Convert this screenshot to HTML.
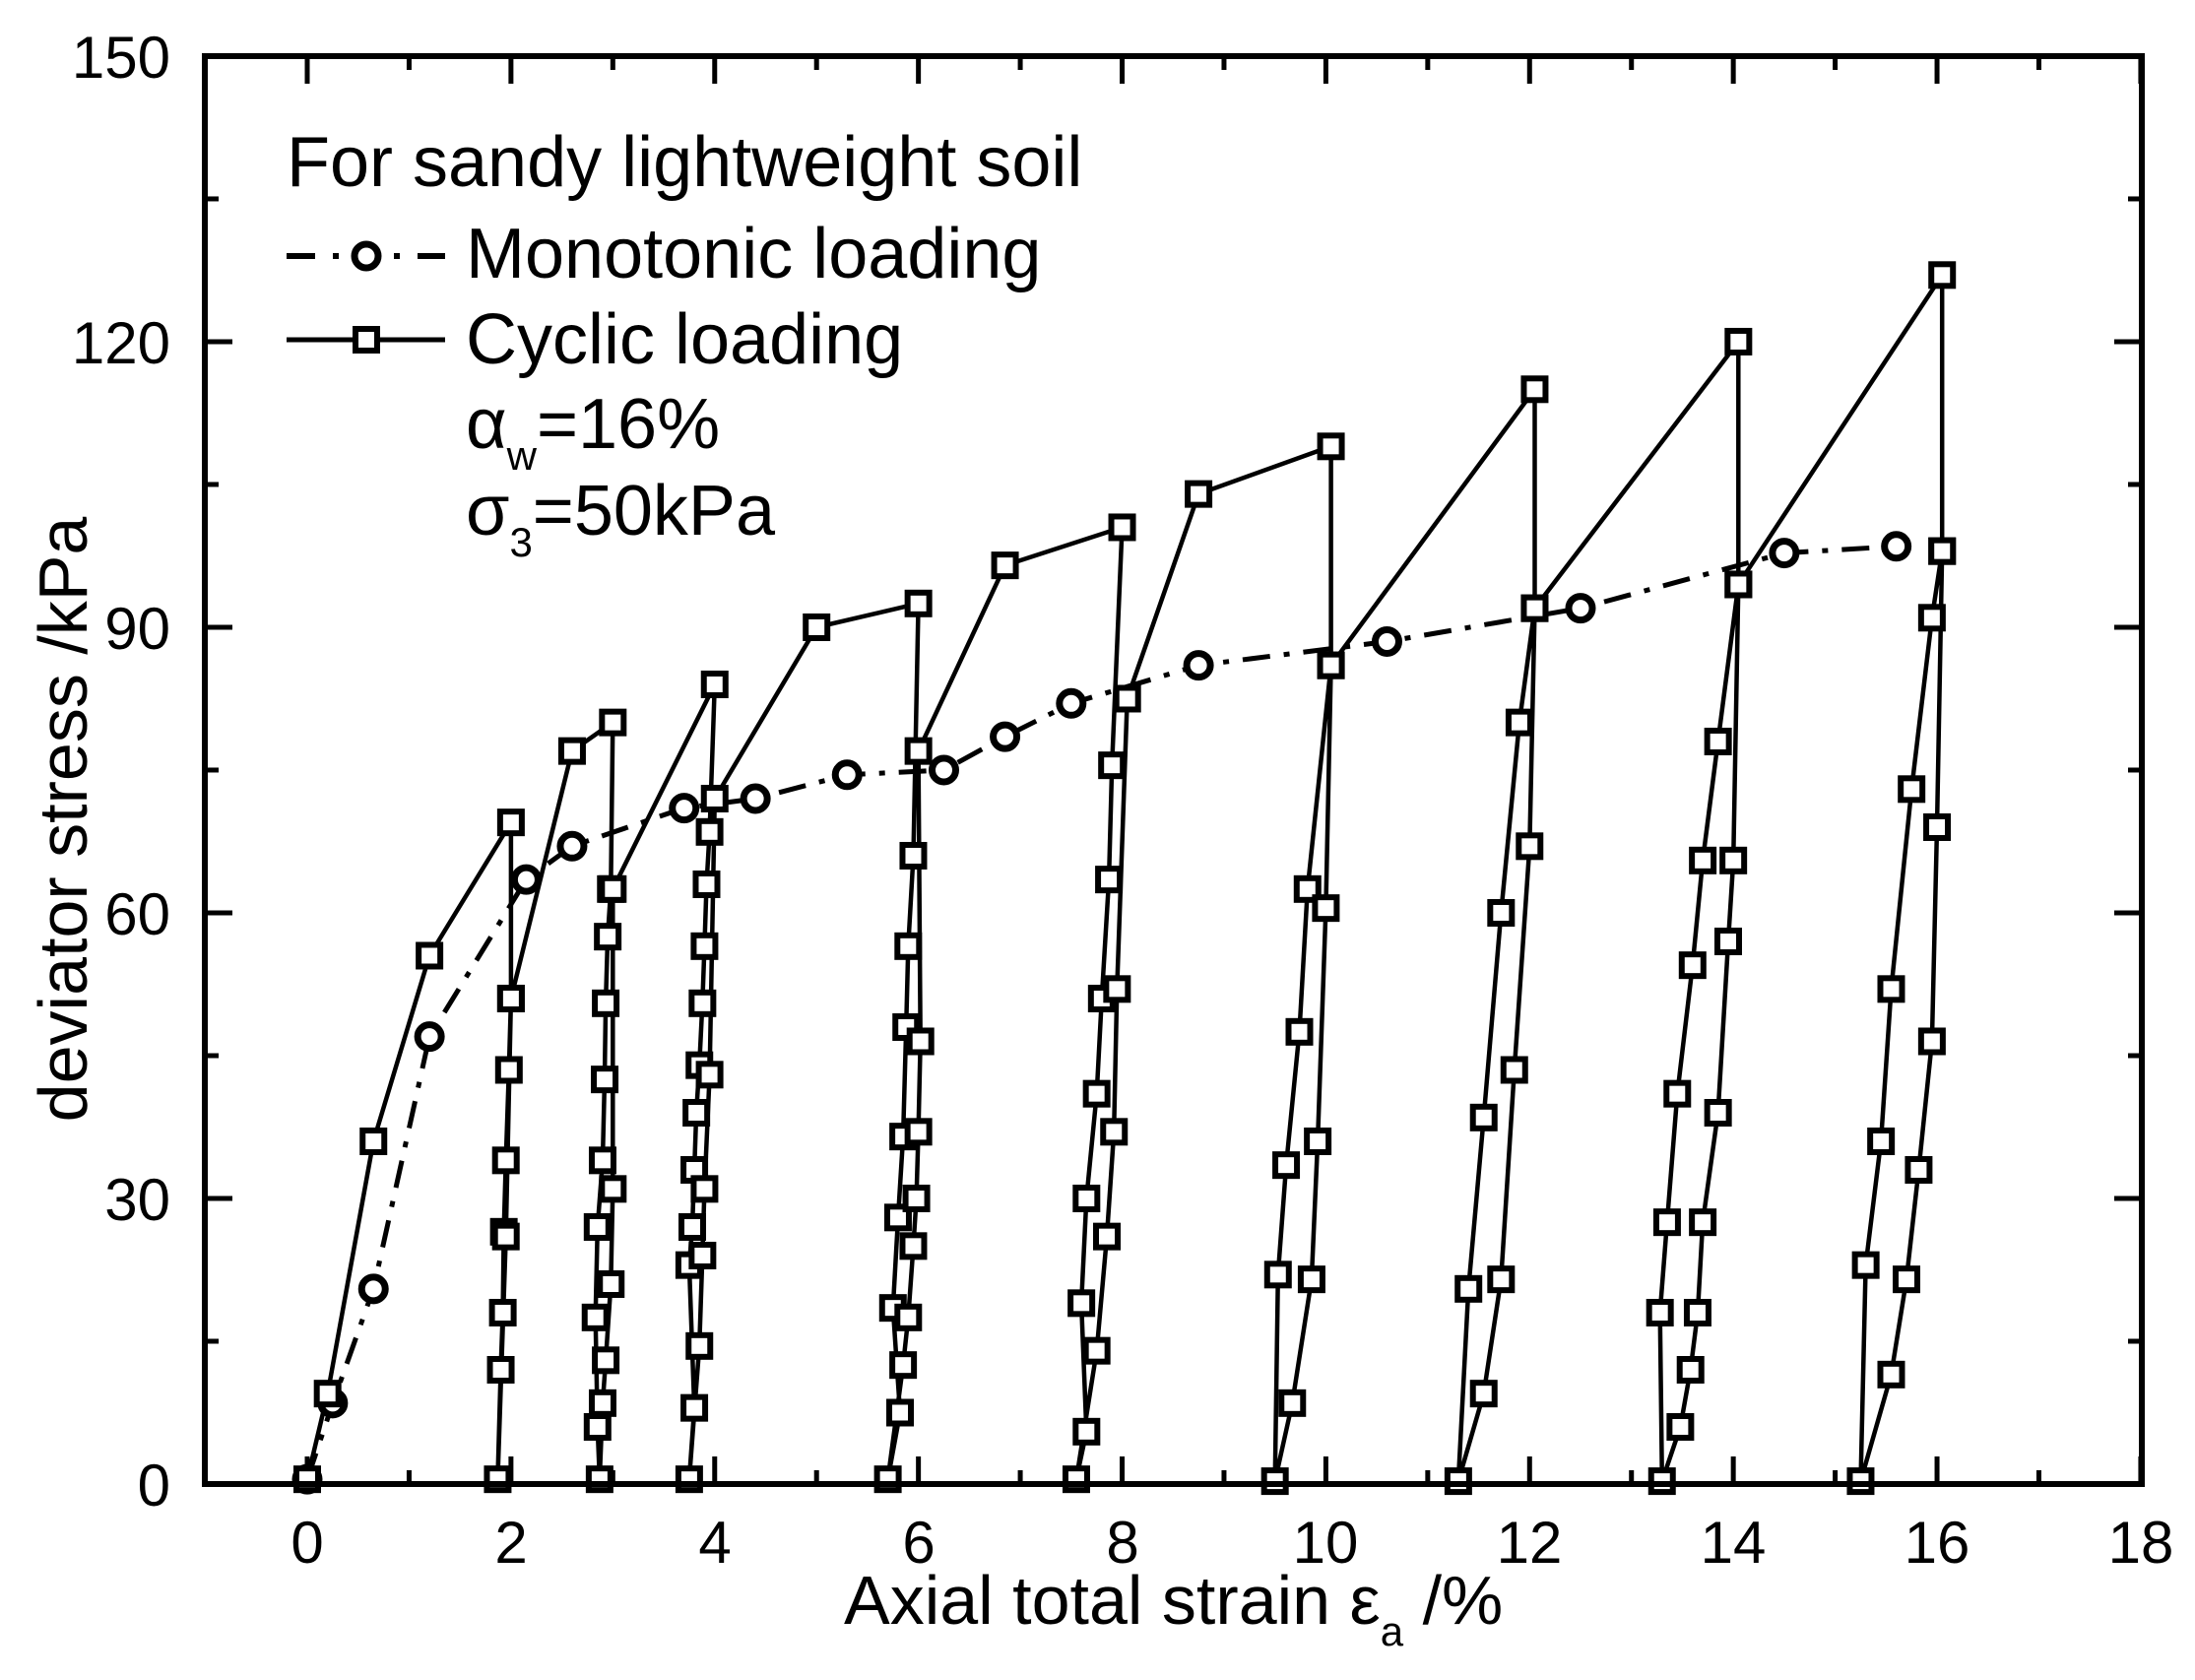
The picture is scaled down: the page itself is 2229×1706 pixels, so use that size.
<!DOCTYPE html>
<html><head><meta charset="utf-8"><style>
html,body{margin:0;padding:0;background:#fff}
svg{display:block}
text{font-family:"Liberation Sans",Arial,sans-serif;fill:#000}
</style></head><body>
<svg id="s" width="2229" height="1706" viewBox="0 0 2229 1706" xmlns="http://www.w3.org/2000/svg">
<rect x="0" y="0" width="2229" height="1706" fill="#fff"/>
<g id="plot"></g>
<rect x="208" y="57" width="1967" height="1450" fill="none" stroke="#000" stroke-width="6"/>
<g font-size="60" text-anchor="end">
<text x="173" y="1529">0</text>
<text x="173" y="1239">30</text>
<text x="173" y="949">60</text>
<text x="173" y="659">90</text>
<text x="173" y="369">120</text>
<text x="173" y="79">150</text>
</g>
<g font-size="60" text-anchor="middle">
<text x="312" y="1587">0</text>
<text x="519" y="1587">2</text>
<text x="726" y="1587">4</text>
<text x="933" y="1587">6</text>
<text x="1140" y="1587">8</text>
<text x="1346" y="1587">10</text>
<text x="1553" y="1587">12</text>
<text x="1760" y="1587">14</text>
<text x="1967" y="1587">16</text>
<text x="2174" y="1587">18</text>
</g>
<text x="857" y="1649" font-size="70">Axial total strain ε<tspan font-size="42" dy="22">a</tspan><tspan dy="-22"> /%</tspan></text>
<text transform="translate(88,832) rotate(-90)" text-anchor="middle" font-size="70">deviator stress /kPa</text>
<g font-size="72">
<text x="291" y="189">For sandy lightweight soil</text>
<text x="473" y="282">Monotonic loading</text>
<text x="473" y="369">Cyclic loading</text>
<text x="473" y="455">α<tspan font-size="42" dy="22">w</tspan><tspan dy="-22">=16%</tspan></text>
<text x="473" y="543">σ<tspan font-size="42" dy="22">3</tspan><tspan dy="-22">=50kPa</tspan></text>
</g>
<line x1="291" y1="260" x2="320" y2="260" stroke="#000" stroke-width="6"/>
<line x1="338" y1="260" x2="344" y2="260" stroke="#000" stroke-width="6"/>
<circle cx="372" cy="260" r="12" fill="#fff" stroke="#000" stroke-width="7"/>
<line x1="400" y1="260" x2="406" y2="260" stroke="#000" stroke-width="6"/>
<line x1="424" y1="260" x2="452" y2="260" stroke="#000" stroke-width="6"/>
<line x1="291" y1="345" x2="452" y2="345" stroke="#000" stroke-width="5"/>
<rect x="361" y="334" width="22" height="22" fill="#fff" stroke="#000" stroke-width="6"/>
</svg>
<script>
(function(){
var X=function(x){return 312+x*103.44},Y=function(y){return 1507-y*9.667};
var g=document.getElementById('plot'),ns='http://www.w3.org/2000/svg';
function el(t,a){var e=document.createElementNS(ns,t);for(var k in a)e.setAttribute(k,a[k]);g.appendChild(e);return e;}
for(var i=0;i<=18;i++){var L=i%2==0?28:14;var x=X(i);
el('line',{x1:x,y1:1507,x2:x,y2:1507-L,stroke:'#000','stroke-width':5});
el('line',{x1:x,y1:57,x2:x,y2:57+L,stroke:'#000','stroke-width':5});}
for(var j=0;j<=10;j++){var L=j%2==0?28:14;var y=Y(j*15);
el('line',{x1:208,y1:y,x2:208+L,y2:y,stroke:'#000','stroke-width':5});
el('line',{x1:2175,y1:y,x2:2175-L,y2:y,stroke:'#000','stroke-width':5});}
var mono=[[0,0.5],[0.25,8.5],[0.65,20.5],[1.2,47],[2.15,63.5],[2.6,67],[3.7,71],[4.4,72],[5.3,74.5],[6.25,75],[6.85,78.5],[7.5,82],[8.75,86],[10.6,88.5],[12.5,92],[14.5,97.8],[15.6,98.5]];
var cyc=[[0,0.5],[0.2,9.5],[0.65,36],[1.2,55.5],[2,69.5],
[2,51],[1.98,43.5],[1.95,34],[1.93,26.5],[1.92,18],[1.9,12],[1.87,0.5],[1.95,26],[2,51],
[2.6,77],[3,80],[2.98,62.5],[2.95,57.5],[2.93,50.5],[2.92,42.5],[2.9,34],[2.85,27],[2.83,17.5],[2.85,6],[2.87,0.5],
[2.9,8.5],[2.93,13],[2.98,21],[3.0,31],[3,62.5],
[4,84],[3.95,68.5],[3.92,63],[3.9,56.5],[3.88,50.5],[3.85,44],[3.82,39],[3.8,33],[3.78,27],[3.75,23],[3.8,8],[3.75,0.5],
[3.85,14.5],[3.88,24],[3.9,31],[3.95,43],[4,72],
[5,90],[6,92.5],[5.95,66],[5.9,56.5],[5.88,48],[5.85,36.5],[5.8,28],[5.75,18.5],[5.82,7.5],[5.7,0.5],
[5.85,12.5],[5.9,17.5],[5.95,25],[5.98,30],[6,37],[6.02,46.5],[6,77],
[6.85,96.5],[8,100.5],[7.9,75.5],[7.87,63.5],[7.8,51],[7.75,41],[7.65,30],[7.6,19],[7.65,5.5],[7.55,0.5],
[7.75,14],[7.85,26],[7.92,37],[7.95,52],[8.05,82.5],
[8.75,104],[10.05,109],[10.05,86],[9.82,62.5],[9.74,47.5],[9.61,33.5],[9.53,22],[9.5,0.3],
[9.67,8.5],[9.86,21.5],[9.92,36],[10.0,60.5],[10.05,86],
[12.05,115],[12.05,92],[11.9,80],[11.72,60],[11.55,38.5],[11.4,20.5],[11.3,0.3],
[11.55,9.5],[11.72,21.5],[11.85,43.5],[12,67],[12.05,92],
[14.05,120],[14.05,94.5],[13.85,78],[13.7,65.5],[13.6,54.5],[13.45,41],[13.35,27.5],[13.28,18],[13.3,0.3],
[13.48,6],[13.58,12],[13.65,18],[13.7,27.5],[13.85,39],[13.95,57],[14.0,65.5],[14.05,94.5],
[16.05,127],[16.05,98],[15.95,91],[15.75,73],[15.55,52],[15.45,36],[15.3,23],[15.25,0.3],
[15.55,11.5],[15.7,21.5],[15.82,33],[15.95,46.5],[16,69],[16.05,98]];
function pts(a){return a.map(function(p){return X(p[0]).toFixed(1)+','+Y(p[1]).toFixed(1)}).join(' ');}
el('polyline',{points:pts(mono),fill:'none',stroke:'#000','stroke-width':5,'stroke-dasharray':'28 14 6 14'});
el('polyline',{points:pts(cyc),fill:'none',stroke:'#000','stroke-width':4.5,'stroke-linejoin':'round'});
mono.forEach(function(p){el('circle',{cx:X(p[0]),cy:Y(p[1]),r:12,fill:'#fff',stroke:'#000','stroke-width':7});});
cyc.forEach(function(p){el('rect',{x:X(p[0])-11,y:Y(p[1])-11,width:22,height:22,fill:'#fff',stroke:'#000','stroke-width':6});});
})();
</script>
</body></html>
